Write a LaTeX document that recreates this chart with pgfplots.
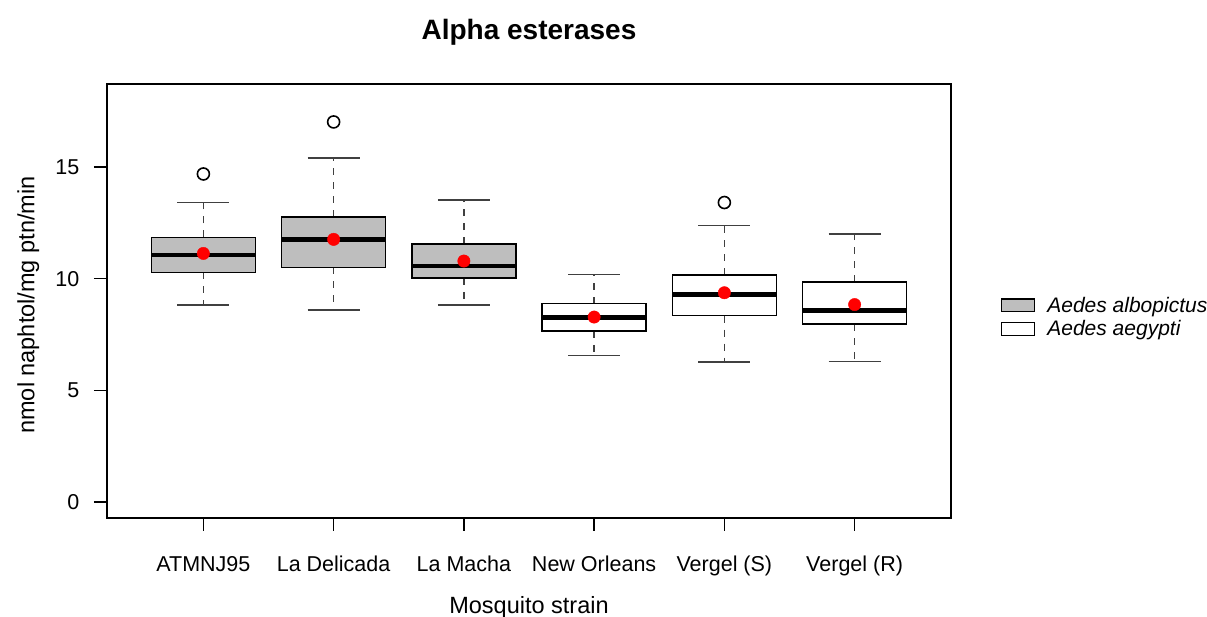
\documentclass[border=0pt]{standalone}
\usepackage{fontspec}
\setmainfont{Liberation Sans}
\usepackage{pgfplots}
\pgfplotsset{compat=1.18}
\usepgfplotslibrary{statistics}
\definecolor{boxgray}{HTML}{BEBEBE}
\definecolor{whisk}{HTML}{404040}
\pgfplotsset{
  boxplot/draw/lower whisker/.code={%
    \draw[/pgfplots/boxplot/every whisker/.try, dash pattern=on 7pt off 7pt]
      (boxplot box cs:\pgfplotsboxplotvalue{lower quartile},0.5)
      -- (boxplot box cs:\pgfplotsboxplotvalue{lower whisker},0.5);
    \draw[/pgfplots/boxplot/every whisker/.try, solid]
      (boxplot whisker cs:\pgfplotsboxplotvalue{lower whisker},0)
      -- (boxplot whisker cs:\pgfplotsboxplotvalue{lower whisker},1);
  },
  boxplot/draw/upper whisker/.code={%
    \draw[/pgfplots/boxplot/every whisker/.try, dash pattern=on 7pt off 7pt]
      (boxplot box cs:\pgfplotsboxplotvalue{upper quartile},0.5)
      -- (boxplot box cs:\pgfplotsboxplotvalue{upper whisker},0.5);
    \draw[/pgfplots/boxplot/every whisker/.try, solid]
      (boxplot whisker cs:\pgfplotsboxplotvalue{upper whisker},0)
      -- (boxplot whisker cs:\pgfplotsboxplotvalue{upper whisker},1);
  },
  rbox/.style={
    boxplot/draw direction=y,
    boxplot/box extend=0.8,
    boxplot/whisker extend=0.4,
    boxplot/every box/.style={draw=black, line width=1.5pt, fill=#1},
    boxplot/every whisker/.style={draw=whisk, line width=1.6pt},
    boxplot/every median/.style={draw=black, line width=4.5pt},
    mark=o, mark size=6pt,
    mark options={draw=black, line width=1.6pt, solid, fill=none},
  },
}
\begin{document}
\begin{tikzpicture}
\begin{axis}[
  name=ax,
  scale only axis,
  width=844pt, height=434pt,
  xmin=0.26, xmax=6.74,
  ymin=-0.72, ymax=18.72,
  xtick={1,2,3,4,5,6},
  xticklabels={ATMNJ95,La Delicada,La Macha,New Orleans,Vergel (S),Vergel (R)},
  ytick={0,5,10,15},
  tick pos=left,
  tick align=outside,
  major tick length=13pt,
  every tick/.style={black, line width=1.3pt},
  axis line style={line width=1.3pt},
  /pgf/number format/assume math mode=true,
  tick label style={font=\fontsize{21.5}{26}\selectfont, inner sep=0pt},
  xticklabel style={anchor=base, yshift=-40.7pt},
  yticklabel style={anchor=east, xshift=-14.5pt},
  label style={font=\fontsize{23.5}{28}\selectfont, inner sep=0pt},
  xlabel={Mosquito strain},
  xlabel style={at={(axis description cs:0.5,-0.2189)}, anchor=base},
  ylabel={nmol naphtol/mg ptn/min},
  ylabel style={at={(axis description cs:-0.0859,0.4908)}, anchor=base, rotate=0},
  title={Alpha esterases},
  title style={at={(axis description cs:0.5,1.088)}, anchor=base, inner sep=0pt,
    font=\bfseries\fontsize{28}{34}\selectfont},
  legend style={at={(axis description cs:1.0592,0.5092)}, anchor=north west,
    draw=none, fill=none, inner sep=0pt, outer sep=0pt,
    font=\itshape\fontsize{21}{25}\selectfont, row sep=7pt,
    column sep=12pt, nodes={inner sep=0pt}},
  legend cell align=left,
  legend image code/.code={\draw[#1] (0pt,-6.3pt) rectangle (33pt,6.3pt);},
]
\addlegendimage{draw=black, fill=boxgray, line width=1.4pt}
\addlegendentry{Aedes albopictus}
\addlegendimage{draw=black, fill=white, line width=1.4pt}
\addlegendentry{Aedes aegypti}

\addplot[rbox=boxgray, boxplot prepared={draw position=1,
  lower whisker=8.81, lower quartile=10.28, median=11.07,
  upper quartile=11.85, upper whisker=13.41}]
  table[row sep=\\, y index=0] {data\\ 14.69\\};
\addplot[rbox=boxgray, boxplot prepared={draw position=2,
  lower whisker=8.61, lower quartile=10.51, median=11.76,
  upper quartile=12.77, upper whisker=15.40}]
  table[row sep=\\, y index=0] {data\\ 17.02\\};
\addplot[rbox=boxgray, boxplot prepared={draw position=3,
  lower whisker=8.81, lower quartile=10.04, median=10.57,
  upper quartile=11.55, upper whisker=13.52}]
  coordinates {};
\addplot[rbox=white, boxplot prepared={draw position=4,
  lower whisker=6.56, lower quartile=7.66, median=8.27,
  upper quartile=8.88, upper whisker=10.19}]
  coordinates {};
\addplot[rbox=white, boxplot prepared={draw position=5,
  lower whisker=6.26, lower quartile=8.35, median=9.28,
  upper quartile=10.17, upper whisker=12.38}]
  table[row sep=\\, y index=0] {data\\ 13.41\\};
\addplot[rbox=white, boxplot prepared={draw position=6,
  lower whisker=6.29, lower quartile=7.96, median=8.58,
  upper quartile=9.85, upper whisker=12.01}]
  coordinates {};

\addplot[only marks, mark=*, mark size=6.2pt, color=red, draw=none, fill=red]
  coordinates {(1,11.13) (2,11.76) (3,10.79) (4,8.28) (5,9.37) (6,8.84)};
\end{axis}
\pgfresetboundingbox
\path[use as bounding box] (ax.south west) ++(-107pt,-99pt) rectangle ++(1207pt,617pt);
\end{tikzpicture}
\end{document}
